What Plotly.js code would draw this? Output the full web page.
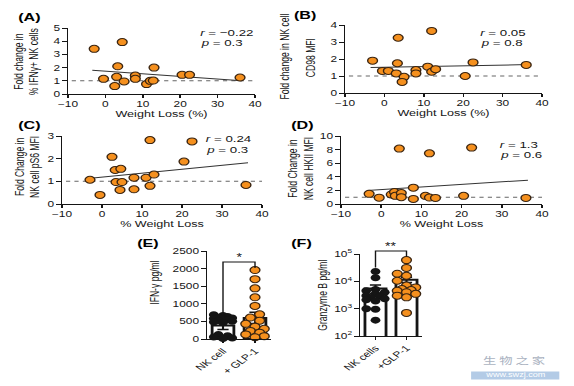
<!DOCTYPE html>
<html><head><meta charset="utf-8">
<script src="https://cdn.plot.ly/plotly-3.0.1.min.js"></script>
<style>
html,body{margin:0;padding:0;background:#fff;overflow:hidden}
#wrap{width:574px;height:386px;overflow:hidden}
#chart{width:410px;height:386px;transform:scaleX(1.4);transform-origin:0 0}
</style></head><body><div id="wrap"><div id="chart"></div></div>
<script>
// ---------- data ----------
const weightLossA = [-3, 4.5, 3.3, -0.5, 3, 5, 2.5, 8, 8, 13, 11, 12, 12.8, 20.5, 22.5, 36];
const foldIFNg    = [3.42, 3.93, 2.1, 1.15, 1.3, 0.95, 0.6, 1.4, 1.15, 2.0, 0.75, 1.0, 1.02, 1.45, 1.45, 1.25];
const fitA_x = [-3.5, 36.5], fitA_y = [1.8, 1.0];
const statsA = ['<i>r</i> = −0.22', '<i>p</i> = 0.3'];

const weightLossB = [-3, -0.5, 1, 3, 3.3, 3.5, 5, 4.5, 8, 8, 11, 12, 12, 13, 20.5, 22.5, 36];
const foldCD98    = [1.9, 1.3, 1.3, 1.15, 1.75, 3.25, 0.95, 0.65, 1.35, 1.15, 1.55, 3.65, 1.25, 1.4, 1.0, 1.8, 1.65];
const fitB_x = [-3.5, 36.5], fitB_y = [1.5, 1.67];
const statsB = ['<i>r</i> = 0.05', '<i>p</i> = 0.8'];

const weightLossC = [-3, -0.5, 2.5, 3.3, 4.7, 3.5, 5, 4.5, 8, 8, 11, 12, 12, 13, 20.5, 22.5, 36];
const foldPS6     = [1.07, 0.4, 2.08, 1.5, 1.55, 0.97, 0.97, 0.62, 1.16, 0.65, 1.16, 2.82, 0.8, 1.3, 1.87, 2.76, 0.84];
const fitC_x = [-3.5, 36.5], fitC_y = [1.12, 1.82];
const statsC = ['<i>r</i> = 0.24', '<i>p</i> = 0.3'];

const weightLossD = [-3, -0.5, 2.5, 3.3, 3.5, 5, 5, 4.5, 8, 8, 11, 12, 12, 13.5, 20.5, 22.5, 36];
const foldHKII    = [1.5, 0.93, 1.4, 1.75, 1.2, 1.6, 1.0, 8.15, 2.4, 0.75, 1.2, 0.95, 7.45, 0.9, 1.2, 8.3, 0.9];
const fitD_x = [-3.5, 36.5], fitD_y = [2.0, 3.5];
const statsD = ['<i>r</i> = 1.3', '<i>p</i> = 0.6'];

const refLevel = 1;
const refLine_x = [-9, 40];

const catE = ['NK cell', '+ GLP-1'];
const ifnNK  = [690, 665, 640, 620, 600, 585, 565, 545, 525, 505, 485, 460, 130, 90, 55, 30, 10];
const ifnGLP = [1960, 1700, 1440, 1185, 940, 700, 610, 520, 430, 350, 290, 230, 180, 130, 80, 50];
const barE = [380, 600], errE = [110, 160];
const sigE_x = [0, 0, 1, 1], sigE_y = [740, 2190, 2190, 2020], sigE = '*';
const ticksE = [0, 500, 1000, 1500, 2000, 2500];

const catF = ['NK cells', '+GLP-1'];
const gzbNK  = [23000, 13500, 5000, 4500, 4000, 3500, 3000, 2800, 2500, 2300, 2100, 1900, 1000, 950, 380];
const gzbGLP = [60000, 31000, 19000, 16000, 10500, 7000, 6000, 5200, 4800, 4500, 4000, 3500, 3000, 2600, 700];
const barF = [5500, 11500], errF = [1900, 2500];
const sigF_x = [0, 0, 1, 1], sigF_y = [32000, 128000, 128000, 80000], sigF = '**';
const ticksF = [100, 1000, 10000, 100000];
const ticksF_text = ['10<sup>2</sup>', '10<sup>3</sup>', '10<sup>4</sup>', '10<sup>5</sup>'];

// ---------- style / layout helpers ----------
const FONT = 'Liberation Sans, Arial, Helvetica, sans-serif';
const ORANGE = '#F5901E', EDGE = '#3a2410', INK = '#151515';
const W0 = 574, H0 = 386, SX = 1.4;
const fx = p => p / W0;
const fy = p => 1 - p / H0;

function axis(extra) {
  return Object.assign({
    showline: true, linecolor: INK, linewidth: 1, ticks: 'outside', ticklen: 3,
    tickwidth: 1, tickcolor: INK, showgrid: false, zeroline: false, fixedrange: true,
    tickfont: {family: FONT, size: 8.5, color: INK}
  }, extra);
}

const traces = [];
const layout = {
  width: 410, height: 386, margin: {l: 0, r: 0, t: 0, b: 0},
  paper_bgcolor: '#fff', plot_bgcolor: 'rgba(0,0,0,0)', showlegend: false,
  font: {family: FONT, color: INK}, annotations: []
};

function ids(n) { return n === 1 ? ['x', 'y', 'xaxis', 'yaxis'] : ['x' + n, 'y' + n, 'xaxis' + n, 'yaxis' + n]; }

function scatterPanel(n, xs, ys, fx_, fy_, yMax, yDtick, xDomPx, yDomPx, xTitle) {
  const [xa, ya, xk, yk] = ids(n);
  traces.push({x: refLine_x, y: [refLevel, refLevel], mode: 'lines', xaxis: xa, yaxis: ya,
    line: {color: '#666', width: 1, dash: 'dot'}, hoverinfo: 'skip'});
  traces.push({x: fx_, y: fy_, mode: 'lines', xaxis: xa, yaxis: ya,
    line: {color: '#333', width: 1}, hoverinfo: 'skip'});
  traces.push({x: xs, y: ys, mode: 'markers', xaxis: xa, yaxis: ya, cliponaxis: false,
    marker: {size: 7, color: ORANGE, line: {color: EDGE, width: 1}}});
  layout[xk] = axis({domain: [fx(xDomPx[0]), fx(xDomPx[1])], range: [-10, 40], dtick: 10, tick0: 0,
    anchor: ya, ticklabelstandoff: -1,
    title: {text: xTitle, font: {family: FONT, size: 9, color: INK}, standoff: 0}});
  layout[yk] = axis({domain: [fy(yDomPx[1]), fy(yDomPx[0])], range: [0, yMax], dtick: yDtick, tick0: 0, anchor: xa});
}

scatterPanel(1, weightLossA, foldIFNg, fitA_x, fitA_y, 5, 1, [68, 255], [28, 94], 'Weight Loss (%)');
scatterPanel(2, weightLossB, foldCD98, fitB_x, fitB_y, 4, 1, [345, 542], [25, 93], 'Weight Loss (%)');
scatterPanel(3, weightLossC, foldPS6, fitC_x, fitC_y, 3, 1, [62, 262], [136, 204], '% Weight Loss');
scatterPanel(4, weightLossD, foldHKII, fitD_x, fitD_y, 10, 2, [341, 542], [136, 204], '% Weight Loss');

// beeswarm offsets (deterministic)
function swarm(vals, center, toPx, pxPerUnitX, diam, maxOffPx) {
  const order = vals.map((v, i) => i).sort((a, b) => vals[a] - vals[b]);
  const placed = [], out = new Array(vals.length), step = diam * 0.55;
  for (const i of order) {
    const py = toPx(vals[i]);
    let best = 0, bestD = -1, done = false;
    for (let k = 0; k <= 12 && !done; k++) {
      const cands = k === 0 ? [0] : (placed.length % 2 ? [k * step, -k * step] : [-k * step, k * step]);
      for (const dx of cands) {
        if (Math.abs(dx) > maxOffPx) continue;
        let minD = Infinity;
        for (const p of placed) { const d = Math.hypot(p.x - dx, p.y - py); if (d < minD) minD = d; }
        if (minD >= diam) { best = dx; done = true; break; }
        if (minD > bestD) { bestD = minD; best = dx; }
      }
    }
    placed.push({x: best, y: py});
    out[i] = center + best / pxPerUnitX;
  }
  return out;
}

// ----- panel E -----
const eDomX = [207, 271], eDomY = [251, 339];
const ePxPerUnit = (eDomX[1] - eDomX[0]) / SX / 2;
const eToPx = v => v * (eDomY[1] - eDomY[0]) / 2500;
traces.push({type: 'bar', x: [0, 1], y: barE, width: 0.68, xaxis: 'x5', yaxis: 'y5',
  marker: {color: '#fff', line: {color: INK, width: 2}},
  error_y: {type: 'data', array: errE, color: INK, thickness: 1.5, width: 4}});
traces.push({x: swarm(ifnNK, 0, eToPx, ePxPerUnit, 6, 7.5), y: ifnNK, mode: 'markers', xaxis: 'x5', yaxis: 'y5',
  cliponaxis: false, marker: {size: 7, color: INK}});
traces.push({x: swarm(ifnGLP, 1, eToPx, ePxPerUnit, 6, 7.5), y: ifnGLP, mode: 'markers', xaxis: 'x5', yaxis: 'y5',
  cliponaxis: false, marker: {size: 7, color: ORANGE, line: {color: EDGE, width: 1}}});
traces.push({x: sigE_x, y: sigE_y, mode: 'lines', xaxis: 'x5', yaxis: 'y5', line: {color: INK, width: 1}});
layout.xaxis5 = axis({domain: [fx(eDomX[0]), fx(eDomX[1])], range: [-0.5, 1.5], anchor: 'y5',
  tickmode: 'array', tickvals: [0, 1], ticktext: catE, tickangle: -45});
layout.yaxis5 = axis({domain: [fy(eDomY[1]), fy(eDomY[0])], range: [0, 2500], anchor: 'x5',
  tickmode: 'array', tickvals: ticksE, tickformat: 'd'});
layout.annotations.push({xref: 'x5', yref: 'y5', x: 0.5, y: sigE_y[1], text: sigE, showarrow: false,
  yanchor: 'bottom', yshift: -3, font: {family: FONT, size: 10, color: INK}});

// ----- panel F -----
const fDomX = [360, 422], fDomY = [254, 336];
const fPxPerUnit = (fDomX[1] - fDomX[0]) / SX / 2;
const fToPx = v => Math.log10(v) * (fDomY[1] - fDomY[0]) / 3;
traces.push({type: 'bar', x: [0, 1], y: barF, width: 0.68, xaxis: 'x6', yaxis: 'y6',
  marker: {color: '#fff', line: {color: INK, width: 2}},
  error_y: {type: 'data', array: errF, color: INK, thickness: 1.5, width: 4}});
traces.push({x: swarm(gzbNK, 0, fToPx, fPxPerUnit, 6, 7.5), y: gzbNK, mode: 'markers', xaxis: 'x6', yaxis: 'y6',
  cliponaxis: false, marker: {size: 7, color: INK}});
traces.push({x: swarm(gzbGLP, 1, fToPx, fPxPerUnit, 6, 7.5), y: gzbGLP, mode: 'markers', xaxis: 'x6', yaxis: 'y6',
  cliponaxis: false, marker: {size: 7, color: ORANGE, line: {color: EDGE, width: 1}}});
layout.xaxis6 = axis({domain: [fx(fDomX[0]), fx(fDomX[1])], range: [-0.5, 1.5], anchor: 'y6',
  tickmode: 'array', tickvals: [0, 1], ticktext: catF, tickangle: -45});
layout.yaxis6 = axis({domain: [fy(fDomY[1]), fy(fDomY[0])], type: 'log', range: [2, 5], anchor: 'x6',
  tickmode: 'array', tickvals: ticksF, ticktext: ticksF_text});
// invisible companion subplot with same scale but taller, for the bracket above 10^5
const fTopExtra = 0.3;
const fDecade = (fy(fDomY[0]) - fy(fDomY[1])) / 3;
layout.xaxis7 = {domain: layout.xaxis6.domain, range: [-0.5, 1.5], anchor: 'y7', visible: false, fixedrange: true};
layout.yaxis7 = {domain: [fy(fDomY[1]), fy(fDomY[0]) + fTopExtra * fDecade], type: 'log', range: [2, 5 + fTopExtra],
  anchor: 'x7', visible: false, fixedrange: true};
traces.push({x: sigF_x, y: sigF_y, mode: 'lines', xaxis: 'x7', yaxis: 'y7', line: {color: INK, width: 1}});
layout.annotations.push({xref: 'x7', yref: 'y7', x: 0.5, y: Math.log10(sigF_y[1]), text: sigF, showarrow: false,
  yanchor: 'bottom', yshift: -3, font: {family: FONT, size: 10, color: INK}});

// ----- text annotations -----
function ann(xp, yp, text, opts) {
  layout.annotations.push(Object.assign({xref: 'paper', yref: 'paper', x: fx(xp), y: fy(yp), text: text,
    showarrow: false, xanchor: 'center', yanchor: 'middle', font: {family: FONT, size: 9, color: INK}}, opts || {}));
}
const panelFont = {family: FONT, size: 11.5, color: '#000'};
ann(29, 17, '<b>(A)</b>', {font: panelFont});
ann(305, 15, '<b>(B)</b>', {font: panelFont});
ann(29, 125, '<b>(C)</b>', {font: panelFont});
ann(303, 125, '<b>(D)</b>', {font: panelFont});
ann(148, 243, '<b>(E)</b>', {font: panelFont});
ann(302, 243, '<b>(F)</b>', {font: panelFont});

const ytFont = {family: FONT, size: 8.6, color: INK};
ann(25.5, 62, 'Fold change in<br>% IFNγ+ NK cells', {textangle: -90, font: ytFont});
ann(285, 57, 'Fold change in NK cell', {textangle: -90, font: ytFont});
ann(311, 58, 'CD98 MFI', {textangle: -90, font: ytFont});
ann(26.5, 167, 'Fold Change in<br>NK cell pS6 MFI', {textangle: -90, font: ytFont});
ann(300, 168, 'Fold Change in<br>NK cell HKII MFI', {textangle: -90, font: ytFont});
ann(155, 283, 'IFN-γ pg/ml', {textangle: -90, font: ytFont});
ann(323, 295, 'Granzyme B pg/ml', {textangle: -90, font: ytFont});

const stFont = {family: FONT, size: 9.5, color: INK};
[[statsA, 197, 33], [statsB, 477, 33], [statsC, 203, 139], [statsD, 497, 144]].forEach(([s, x, y]) => {
  ann(x, y, s[0], {xanchor: 'left', font: stFont});
  ann(x, y + 10, s[1], {xanchor: 'left', font: stFont});
});

// watermark
ann(514, 360, '生 物 之 家', {font: {family: 'Noto Sans CJK SC, sans-serif', size: 9.5, color: '#aab2bf'}});
ann(515, 375, 'www.swzj.com', {font: {family: FONT, size: 6.5, color: '#ffffff'}, bgcolor: '#b3cbe6', width: 62, height: 7, borderpad: 0});

Plotly.newPlot('chart', traces, layout, {staticPlot: true, displayModeBar: false});
</script></body></html>
